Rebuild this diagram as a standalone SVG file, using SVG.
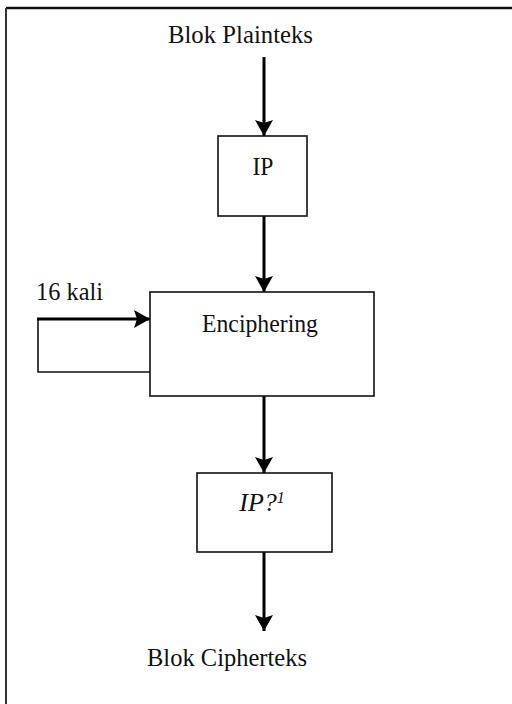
<svg xmlns="http://www.w3.org/2000/svg" width="512" height="704" viewBox="0 0 512 704">
  <style>
    .box { fill: #ffffff; stroke: #111111; stroke-width: 1.6; }
    .flow { fill: none; stroke: #000000; stroke-width: 3; }
    .thin { fill: none; stroke: #111111; stroke-width: 1.6; }
    .lbl { font-family: "Liberation Serif", "Times New Roman", serif; font-size: 26px; fill: #111111; }
    .mid { text-anchor: middle; }
  </style>
  <defs>
    <marker id="head" markerUnits="userSpaceOnUse" markerWidth="20" markerHeight="18" viewBox="0 0 20 18" refX="16" refY="9" orient="auto">
      <path d="M0,0 L16,9 L0,18 L3,9 Z" fill="#000000"/>
    </marker>
  </defs>
  <rect width="512" height="704" fill="#ffffff"/>

  <!-- page frame (top and left edges) -->
  <g id="frame">
    <line x1="6" y1="8" x2="512" y2="8" stroke="#111111" stroke-width="2.5"/>
    <line x1="6" y1="8" x2="6" y2="704" stroke="#333333" stroke-width="2"/>
  </g>

  <!-- connectors -->
  <g id="connectors">
    <line class="flow" x1="264" y1="57" x2="264" y2="136" marker-end="url(#head)"/>
    <line class="flow" x1="264" y1="216" x2="264" y2="292" marker-end="url(#head)"/>
    <line class="flow" x1="264" y1="396" x2="264" y2="473" marker-end="url(#head)"/>
    <line class="flow" x1="264" y1="552" x2="264" y2="631" marker-end="url(#head)"/>
    <!-- round loop back into the cipher stage -->
    <polyline class="thin" points="150,372 38,372 38,319"/>
    <line class="flow" x1="37" y1="319" x2="150" y2="319" marker-end="url(#head)"/>
  </g>

  <g id="plaintext">
    <text class="lbl mid" x="240.5" y="43" textLength="145" lengthAdjust="spacingAndGlyphs">Blok Plainteks</text>
  </g>

  <g id="ip">
    <rect class="box" x="218" y="136" width="89" height="80"/>
    <text class="lbl mid" x="263" y="175" textLength="21" lengthAdjust="spacingAndGlyphs">IP</text>
  </g>

  <g id="enciphering">
    <rect class="box" x="150" y="292" width="224" height="104"/>
    <text class="lbl mid" x="260" y="332" textLength="116" lengthAdjust="spacingAndGlyphs">Enciphering</text>
  </g>

  <g id="rounds">
    <text class="lbl" x="36" y="300" textLength="67" lengthAdjust="spacingAndGlyphs">16 kali</text>
  </g>

  <g id="ip-inverse">
    <rect class="box" x="197" y="473" width="135" height="79"/>
    <text class="lbl mid" x="262" y="511" font-style="italic">IP?<tspan font-size="16" dy="-8">1</tspan></text>
  </g>

  <g id="ciphertext">
    <text class="lbl mid" x="227" y="666" textLength="160" lengthAdjust="spacingAndGlyphs">Blok Cipherteks</text>
  </g>
</svg>
